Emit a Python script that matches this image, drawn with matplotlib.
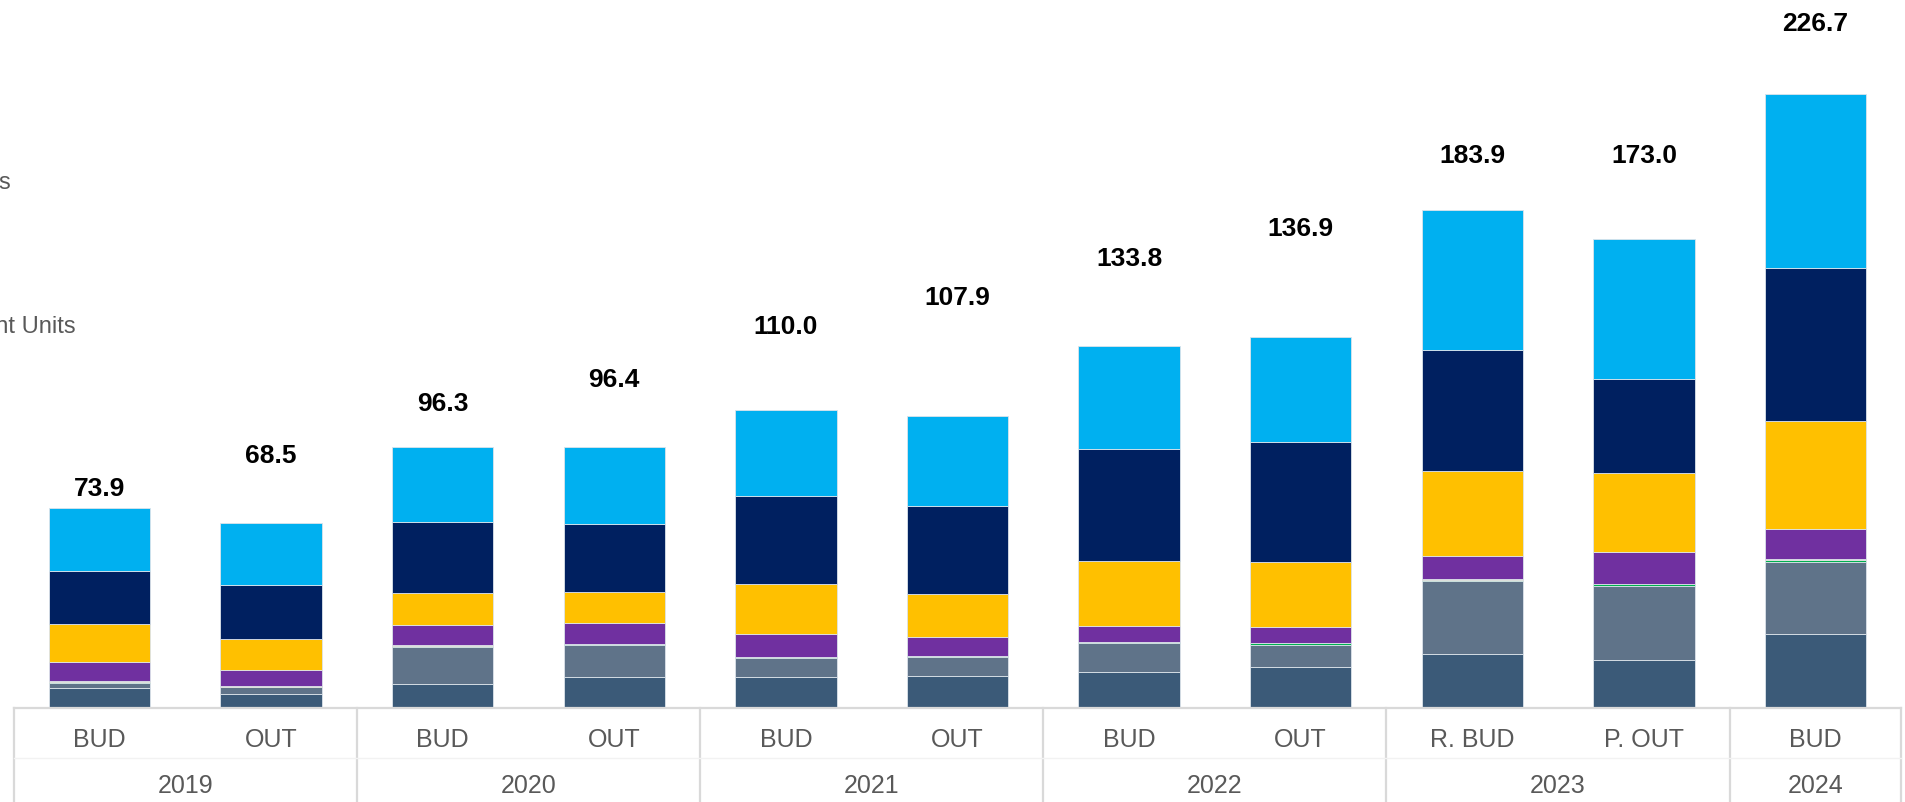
import numpy as np
import matplotlib
matplotlib.use("Agg")
import matplotlib.pyplot as plt

plt.rcParams['font.family'] = ['Liberation Sans', 'DejaVu Sans']

# ---------- data
years = ["2019", "2020", "2021", "2022", "2023", "2024"]
year_span = [2, 2, 2, 2, 2, 1]
versions = ["BUD", "OUT", "BUD", "OUT", "BUD", "OUT", "BUD", "OUT", "R. BUD", "P. OUT", "BUD"]
totals = [73.9, 68.5, 96.3, 96.4, 110.0, 107.9, 133.8, 136.9, 183.9, 173.0, 226.7]

# stack segments, bottom to top
core = [7.4, 5.4, 8.9, 11.4, 11.7, 11.9, 13.3, 15.4, 20.0, 17.8, 27.5]
slate = [2.1, 2.5, 13.8, 12.0, 6.9, 6.9, 10.7, 8.1, 26.9, 27.4, 26.6]
green = [0.3, 0.1, 0.4, 0.4, 0.4, 0.4, 0.3, 0.5, 0.4, 0.7, 0.6]
amber = [0.3, 0.1, 0.1, 0.1, 0.1, 0.1, 0.3, 0.1, 0.3, 0.1, 0.3]
purple = [6.9, 5.9, 7.5, 7.4, 8.5, 7.1, 5.9, 5.9, 8.6, 11.7, 11.3]
gold = [14.1, 11.7, 12.0, 11.7, 18.2, 15.6, 23.9, 24.1, 31.3, 29.2, 39.7]
navy = [19.6, 19.7, 26.2, 24.9, 32.6, 32.7, 41.4, 44.1, 44.8, 34.7, 56.3]
sky = [23.2, 23.1, 27.4, 28.5, 31.6, 33.2, 38.0, 38.7, 51.6, 51.4, 64.4]

series = [core, slate, green, amber, purple, gold, navy, sky]
colors = ['#3B5A78', '#5F7389', '#00B050', '#F4B942', '#7030A0', '#FFC000', '#002060', '#00B0F0']

# where the total labels sit (data units)
label_y = [81.0, 93.1, 112.4, 121.0, 140.7, 151.5, 165.8, 177.0, 203.9, 203.9, 252.4]

fig = plt.figure(figsize=(19.06, 8.02), dpi=100)
ax = fig.add_axes([13.7 / 1906, 1 - 708.3 / 802, 1887.6 / 1906, 708.3 / 802])

x = np.arange(len(versions))
bottom = np.zeros(len(versions))
for vals, c in zip(series, colors):
    vals = np.array(vals)
    ax.bar(x, vals, bottom=bottom, width=0.59, color=c, edgecolor='#dce3ea', linewidth=0.6)
    bottom += vals

for xi, t, ly in zip(x, totals, label_y):
    ax.text(xi, ly, f"{t:.1f}", ha='center', va='center', fontsize=19, fontweight='bold', color='black')

ax.set_xlim(-0.5, 10.5)
ax.set_ylim(0, 708.3 / 2.71)
ax.axis('off')

# category table under the bars
grid = '#D9D9D9'
ax.axhline(0, color=grid, lw=1.6, clip_on=False)
edges = [-0.5]
for s in year_span:
    edges.append(edges[-1] + s)
for e in edges:
    ax.plot([e, e], [0, -40], color=grid, lw=1.6, clip_on=False)
ax.plot([-0.5, 10.5], [-18.2, -18.2], color='#F2F2F2', lw=1.0, clip_on=False)

for xi, v in zip(x, versions):
    ax.text(xi, -11.8, v, ha='center', va='center', fontsize=18, color='#595959')
start = -0.5
for y, s in zip(years, year_span):
    ax.text(start + s / 2, -28.8, y, ha='center', va='center', fontsize=18, color='#595959')
    start += s

# legend entries running off the left edge
fig.text(12 / 1906, 1 - 183 / 802, "Services", ha='right', va='center', fontsize=17, color='#595959')
fig.text(76 / 1906, 1 - 327 / 802, "Component Units", ha='right', va='center', fontsize=17, color='#595959')

fig.savefig("out.png", dpi=100)
